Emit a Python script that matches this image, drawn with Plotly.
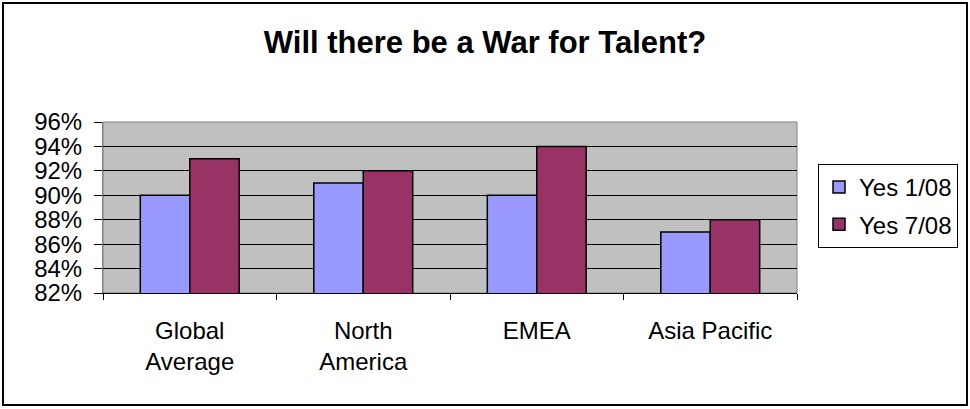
import plotly.graph_objects as go

categories = ["Global<br>Average", "North<br>America", "EMEA", "Asia Pacific"]
yes_jan = [90, 91, 90, 87]
yes_jul = [93, 92, 94, 88]
series_names = ["Yes 1/08", "Yes 7/08"]
y_ticks = [82, 84, 86, 88, 90, 92, 94, 96]
y_tick_labels = [f"{v}%" for v in y_ticks]

FONT = "Liberation Sans, Arial, sans-serif"

fig = go.Figure()
fig.add_trace(go.Bar(x=categories, y=yes_jan, name=series_names[0],
                     marker=dict(color="#9999FF", line=dict(color="black", width=1.5)),
                     legendgroup="a"))
fig.add_trace(go.Bar(x=categories, y=yes_jul, name=series_names[1],
                     marker=dict(color="#993366", line=dict(color="black", width=1.5)),
                     legendgroup="b"))

L, R, T, B = 103, 797, 122, 293
W, H = R - L, B - T

def px(x):
    return (x - L) / W

def py(y):
    return (B - y) / H

fig.update_layout(
    width=970, height=409,
    margin=dict(l=L, r=970 - R, t=T, b=409 - B),
    paper_bgcolor="white",
    plot_bgcolor="#C0C0C0",
    font=dict(family=FONT, size=24, color="black"),
    barmode="group",
    bargap=0.43,
    bargroupgap=0,
    title=dict(text="<b>Will there be a War for Talent?</b>",
               x=0.5, xref="container", xanchor="center",
               y=1 - 42 / 409, yanchor="middle",
               font=dict(family=FONT, size=31, color="black")),
    legend=dict(x=px(818), y=py(164), xanchor="left", yanchor="top",
                bordercolor="black", borderwidth=1, bgcolor="white",
                font=dict(family=FONT, size=24),
                traceorder="grouped", tracegroupgap=3),
    showlegend=True,
    xaxis=dict(type="category", showline=True, linecolor="black", linewidth=1,
               ticks="outside", tickson="boundaries", ticklen=6, tickcolor="black",
               ticklabelstandoff=16,
               showgrid=False, tickfont=dict(size=24), fixedrange=True),
    yaxis=dict(range=[82, 96], tickvals=y_ticks, ticktext=y_tick_labels,
               showline=True, linecolor="#808080", linewidth=1, mirror=False,
               ticks="outside", ticklen=8, tickcolor="black",
               ticklabelstandoff=7,
               showgrid=True, gridcolor="black", gridwidth=1,
               zeroline=False, tickfont=dict(size=24)),
    shapes=[
        dict(type="rect", xref="paper", yref="paper", x0=0, x1=1, y0=0, y1=1,
             line=dict(color="#808080", width=1), fillcolor="rgba(0,0,0,0)", layer="below"),
        dict(type="rect", xref="paper", yref="paper",
             x0=px(3), x1=px(967), y0=py(405), y1=py(3),
             line=dict(color="black", width=2), fillcolor="rgba(0,0,0,0)"),
    ],
)

fig.write_html("out.html")
